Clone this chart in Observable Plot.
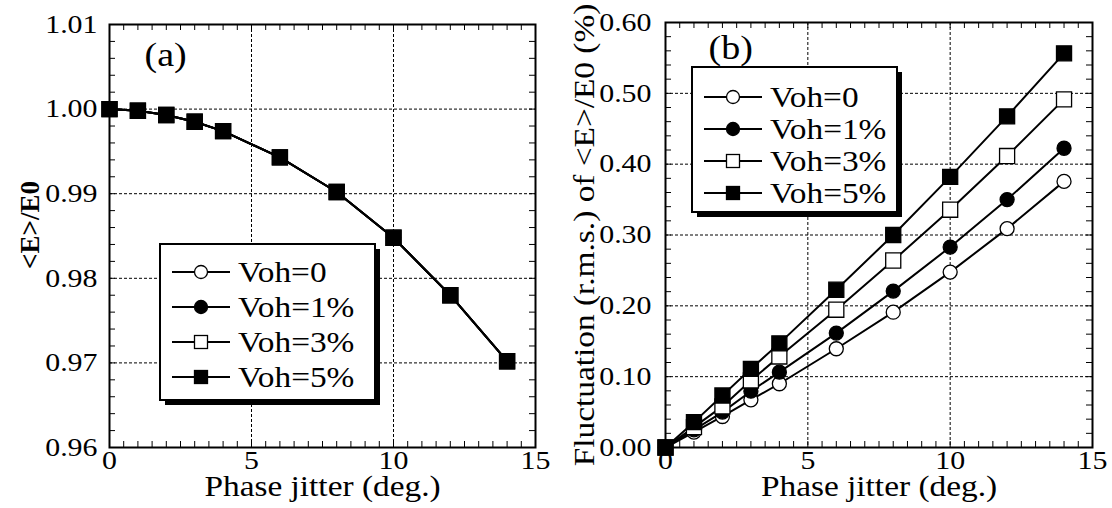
<!DOCTYPE html>
<html>
<head>
<meta charset="utf-8">
<script src="https://cdn.jsdelivr.net/npm/d3@7"></script>
<script src="https://cdn.jsdelivr.net/npm/@observablehq/plot@0.6"></script>
<style>
  body { margin: 0; background: #fff; }
  #fig { position: relative; width: 1112px; height: 508px; display: flex;
         font-family: "Liberation Serif", "Times New Roman", serif; }
  #fig > svg.overlay { position: absolute; left: 0; top: 0; pointer-events: none; }
</style>
</head>
<body>
<div id="fig"></div>
<script>
// Phase jitter (deg.) at which each case was evaluated
const jitter = [0, 1, 2, 3, 4, 6, 8, 10, 12, 14];
const seriesNames = ["Voh=0", "Voh=1%", "Voh=3%", "Voh=5%"];

// (a) mean accelerating field <E>/E0
const meanE_voh0 = [1.0000, 0.9998, 0.9993, 0.9985, 0.9974, 0.9943, 0.9902, 0.9848, 0.9780, 0.9702];
const meanE_voh1 = [1.0000, 0.9998, 0.9993, 0.9985, 0.9974, 0.9943, 0.9902, 0.9848, 0.9780, 0.9702];
const meanE_voh3 = [1.0000, 0.9998, 0.9993, 0.9985, 0.9974, 0.9943, 0.9902, 0.9848, 0.9780, 0.9702];
const meanE_voh5 = [1.0000, 0.9998, 0.9993, 0.9985, 0.9974, 0.9943, 0.9902, 0.9848, 0.9780, 0.9702];

// (b) r.m.s. fluctuation of <E>/E0 in %
const fluct_voh0 = [0, 0.0217, 0.0438, 0.0673, 0.0900, 0.1394, 0.1911, 0.2476, 0.3090, 0.3757];
const fluct_voh1 = [0, 0.0250, 0.0500, 0.0795, 0.1064, 0.1615, 0.2208, 0.2830, 0.3500, 0.4225];
const fluct_voh3 = [0, 0.0287, 0.0580, 0.0946, 0.1285, 0.1945, 0.2640, 0.3357, 0.4115, 0.4915];
const fluct_voh5 = [0, 0.0358, 0.0734, 0.1110, 0.1470, 0.2227, 0.3000, 0.3820, 0.4675, 0.5565];

// axis tick values
const xTicks = [0, 5, 10, 15];
const yTicksA = [0.96, 0.97, 0.98, 0.99, 1.00, 1.01];
const yTicksB = [0.00, 0.10, 0.20, 0.30, 0.40, 0.50, 0.60];

// marker styles per series
const symbols = ["circle", "circle", "square", "square"];
const fills = ["white", "black", "white", "black"];

const FONT = '"Liberation Serif", "Times New Roman", serif';

function panel({series, yDomain, yTicks, yMinorStep, yLabel, tag, tagDx, tagDy,
                marginTop, marginRight, marginBottom, marginLeft, tickPad, labelOffsetY}) {
  const W = 556, H = 508;
  const fw = W - marginLeft - marginRight;
  const fh = H - marginTop - marginBottom;
  const minor = 6;
  const xMinor = d3.range(0, 15 + 0.25, 0.5);
  const yMinor = d3.range(0, Math.round((yDomain[1] - yDomain[0]) / yMinorStep) + 1)
    .map(i => yDomain[0] + i * yMinorStep);
  const tickStyle = {stroke: "black", strokeWidth: 1};
  const gridStyle = {stroke: "black", strokeOpacity: 1, strokeWidth: 1, strokeDasharray: "3,2"};

  const seriesMarks = series.flatMap((vals, i) => {
    const rows = jitter.map((x, j) => ({x, y: vals[j]}));
    return [
      Plot.line(rows, {x: "x", y: "y", stroke: "black", strokeWidth: 2}),
      Plot.dot(rows, {x: "x", y: "y", symbol: symbols[i], fill: fills[i], stroke: "black",
                      strokeWidth: 1.3, r: symbols[i] === "square" ? 8.5 : 7})
    ];
  });

  const svg = Plot.plot({
    width: W, height: H,
    marginTop, marginRight, marginBottom, marginLeft,
    style: {fontFamily: FONT, background: "white", color: "black"},
    x: {domain: [0, 15]},
    y: {domain: yDomain},
    marks: [
      Plot.gridX(xTicks.slice(1, -1), gridStyle),
      Plot.gridY(yTicks.slice(1, -1), gridStyle),
      // inward ticks on all four sides
      Plot.ruleX(xMinor, {...tickStyle, insetTop: fh - minor}),
      Plot.ruleX(xMinor, {...tickStyle, insetBottom: fh - minor}),
      Plot.ruleY(yMinor, {...tickStyle, insetRight: fw - minor}),
      Plot.ruleY(yMinor, {...tickStyle, insetLeft: fw - minor}),
      Plot.axisX(xTicks, {tickSize: 0, tickPadding: 3, fontSize: 26,
        label: "Phase jitter (deg.)", labelAnchor: "center", labelArrow: "none", labelOffset: 48}),
      Plot.axisY(yTicks, {tickSize: 0, tickPadding: tickPad, fontSize: 26, tickFormat: d3.format(".2f"),
        label: yLabel, labelAnchor: "center", labelArrow: "none", labelOffset: labelOffsetY}),
      ...seriesMarks,
      Plot.frame({stroke: "black", strokeWidth: 2}),
      Plot.text([tag], {text: d => d, frameAnchor: "top-left", textAnchor: "start", lineAnchor: "top",
                        dx: tagDx, dy: tagDy, fontSize: 33, fill: "black"})
    ]
  });
  svg.querySelectorAll('[aria-label="x-axis label"], [aria-label="y-axis label"]')
    .forEach(g => g.setAttribute("font-size", 29));
  return svg;
}

const fig = document.getElementById("fig");

const svgA = panel({
  series: [meanE_voh0, meanE_voh1, meanE_voh3, meanE_voh5],
  yDomain: [0.96, 1.01], yTicks: yTicksA, yMinorStep: 0.002,
  yLabel: "<E>/E0", tag: "(a)", tagDx: 35, tagDy: 18,
  marginTop: 24, marginRight: 21, marginBottom: 61, marginLeft: 109,
  tickPad: 12, labelOffsetY: 90
});
// bold, slightly smaller field label, sitting a little above the frame centre
const labelA = svgA.querySelector('[aria-label="y-axis label"]');
labelA.setAttribute("font-weight", "bold");
labelA.setAttribute("font-size", 27);
labelA.setAttribute("transform", ((labelA.getAttribute("transform") || "") + " translate(0,-11)").trim());
labelA.querySelectorAll("text").forEach(t => t.setAttribute("data-keep", "1"));
fig.appendChild(svgA);

const svgB = panel({
  series: [fluct_voh0, fluct_voh1, fluct_voh3, fluct_voh5],
  yDomain: [0, 0.6], yTicks: yTicksB, yMinorStep: 0.02,
  yLabel: "Fluctuation (r.m.s.) of <E>/E0 (%)", tag: "(b)", tagDx: 43, tagDy: 13,
  marginTop: 22, marginRight: 20, marginBottom: 61, marginLeft: 109,
  tickPad: 14, labelOffsetY: 92
});
fig.appendChild(svgB);

// legends with drop shadow
const overlay = d3.select(fig).append("svg").attr("class", "overlay")
  .attr("width", 1112).attr("height", 508);

function drawLegend({left, top, width, height, rowTop, rowStep}) {
  const g = overlay.append("g");
  g.append("rect").attr("x", left + 5).attr("y", top + 5).attr("width", width).attr("height", height)
    .attr("fill", "black");
  g.append("rect").attr("x", left).attr("y", top).attr("width", width).attr("height", height)
    .attr("fill", "white").attr("stroke", "black").attr("stroke-width", 2);
  seriesNames.forEach((name, i) => {
    const cy = top + rowTop + i * rowStep;
    const mx = left + 41;
    g.append("line").attr("x1", left + 12).attr("x2", left + 70).attr("y1", cy).attr("y2", cy)
      .attr("stroke", "black").attr("stroke-width", 2);
    if (symbols[i] === "circle") {
      g.append("circle").attr("cx", mx).attr("cy", cy).attr("r", 6.5)
        .attr("fill", fills[i]).attr("stroke", "black").attr("stroke-width", 1.3);
    } else {
      g.append("rect").attr("x", mx - 6.5).attr("y", cy - 6.5).attr("width", 13).attr("height", 13)
        .attr("fill", fills[i]).attr("stroke", "black").attr("stroke-width", 1.3);
    }
    g.append("text").attr("x", left + 78).attr("y", cy).attr("dy", "0.34em")
      .attr("font-family", FONT).attr("font-size", 29).attr("fill", "black").text(name);
  });
}

drawLegend({left: 160, top: 244, width: 215, height: 156, rowTop: 28, rowStep: 35});
drawLegend({left: 692, top: 67, width: 205, height: 145, rowTop: 30, rowStep: 32});

// the lettering is a wide Times; widen every label along its baseline
fig.querySelectorAll("text").forEach(t => {
  if (t.querySelector("tspan") || t.hasAttribute("data-keep")) return;
  const len = t.getComputedTextLength();
  if (len > 0) {
    t.setAttribute("textLength", (len * 1.15).toFixed(1));
    t.setAttribute("lengthAdjust", "spacingAndGlyphs");
  }
});
</script>
</body>
</html>
